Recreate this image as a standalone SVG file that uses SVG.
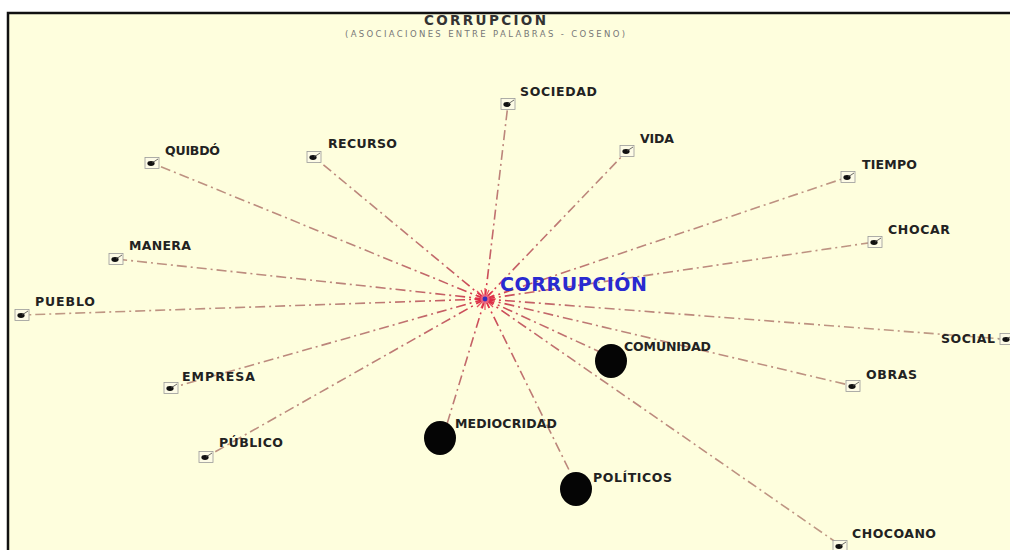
<svg xmlns="http://www.w3.org/2000/svg" width="1010" height="550" viewBox="0 0 1010 550">
  <defs>
    <radialGradient id="rayGrad" gradientUnits="userSpaceOnUse" cx="485" cy="299" r="520">
      <stop offset="0" stop-color="#e0203c"/>
      <stop offset="0.06" stop-color="#c65a62"/>
      <stop offset="0.25" stop-color="#bb847a"/>
      <stop offset="1" stop-color="#c0a088"/>
    </radialGradient>
    <g id="marker">
      <rect x="-7" y="-5.5" width="14" height="11" fill="#fdfbe6" stroke="#9a9a9a" stroke-width="0.8"/>
      <ellipse cx="-1" cy="0.5" rx="3.6" ry="2.4" fill="#111"/>
      <line x1="0" y1="0" x2="6" y2="-4" stroke="#444" stroke-width="0.8"/>
    </g>
  </defs>
  <style>
    .ray { fill: none; stroke: url(#rayGrad); stroke-width: 1.6; stroke-dasharray: 10 4 2 4; }
    .lbl { font-family: "DejaVu Sans", Verdana, sans-serif; font-weight: bold; font-size: 12.5px; fill: #222; }
    .hub { font-family: "DejaVu Sans", Verdana, sans-serif; font-weight: bold; font-size: 19px; fill: #2a2ad0; }
    .big { fill: #050505; }
  </style>

  <!-- page and frame -->
  <rect x="0" y="0" width="1010" height="550" fill="#ffffff"/>
  <rect x="8" y="13" width="1010" height="550" fill="#fefedd" stroke="#111" stroke-width="2.5"/>

  <!-- heading -->
  <text x="485" y="25" text-anchor="middle" font-family="'DejaVu Sans', Verdana, sans-serif" font-weight="bold" font-size="13.5" fill="#333" textLength="122" lengthAdjust="spacing">CORRUPCION</text>
  <text x="485" y="37" text-anchor="middle" font-family="'DejaVu Sans', Verdana, sans-serif" font-size="8.5" fill="#777" textLength="280" lengthAdjust="spacing">(ASOCIACIONES ENTRE PALABRAS - COSENO)</text>

  <!-- connectors from the hub -->
  <g id="connectors">
    <line class="ray" x1="485" y1="299" x2="508" y2="104"/>
    <line class="ray" x1="485" y1="299" x2="627" y2="151"/>
    <line class="ray" x1="485" y1="299" x2="848" y2="177"/>
    <line class="ray" x1="485" y1="299" x2="875" y2="242"/>
    <line class="ray" x1="485" y1="299" x2="1003" y2="339"/>
    <line class="ray" x1="485" y1="299" x2="853" y2="386"/>
    <line class="ray" x1="485" y1="299" x2="600" y2="352"/>
    <line class="ray" x1="485" y1="299" x2="840" y2="545"/>
    <line class="ray" x1="485" y1="299" x2="572" y2="476"/>
    <line class="ray" x1="485" y1="299" x2="447" y2="424"/>
    <line class="ray" x1="485" y1="299" x2="206" y2="457"/>
    <line class="ray" x1="485" y1="299" x2="171" y2="388"/>
    <line class="ray" x1="485" y1="299" x2="22" y2="315"/>
    <line class="ray" x1="485" y1="299" x2="116" y2="259"/>
    <line class="ray" x1="485" y1="299" x2="152" y2="163"/>
    <line class="ray" x1="485" y1="299" x2="314" y2="157"/>
    <line x1="998" y1="339" x2="1002" y2="339" stroke="#888" stroke-width="0.8"/>
  </g>

  <!-- hub -->
  <g id="n-corrupcion">
    <g stroke="#e4304a" stroke-width="1.2" opacity="0.85">
      <line x1="474" y1="299" x2="496" y2="299"/>
      <line x1="485" y1="288" x2="485" y2="310"/>
      <line x1="477" y1="291" x2="493" y2="307"/>
      <line x1="477" y1="307" x2="493" y2="291"/>
      <line x1="476" y1="295" x2="494" y2="303"/>
      <line x1="476" y1="303" x2="494" y2="295"/>
      <line x1="481" y1="290" x2="489" y2="308"/>
      <line x1="489" y1="290" x2="481" y2="308"/>
    </g>
    <circle cx="485" cy="299" r="4.5" fill="#e86a8a" opacity="0.8"/>
    <circle cx="485" cy="299" r="2.4" fill="#3030c0"/>
    <text class="hub" x="500" y="291" textLength="147" lengthAdjust="spacing">CORRUPCIÓN</text>
  </g>

  <!-- word nodes -->
  <g id="n-sociedad"><use href="#marker" x="508" y="104"/><text class="lbl" x="520" y="96" textLength="77" lengthAdjust="spacing">SOCIEDAD</text></g>
  <g id="n-vida"><use href="#marker" x="627" y="151"/><text class="lbl" x="640" y="143" textLength="34" lengthAdjust="spacing">VIDA</text></g>
  <g id="n-tiempo"><use href="#marker" x="848" y="177"/><text class="lbl" x="862" y="169" textLength="55" lengthAdjust="spacing">TIEMPO</text></g>
  <g id="n-chocar"><use href="#marker" x="875" y="242"/><text class="lbl" x="888" y="234" textLength="62" lengthAdjust="spacing">CHOCAR</text></g>
  <g id="n-social"><use href="#marker" x="1007" y="339"/><text class="lbl" x="941" y="343" textLength="54" lengthAdjust="spacing">SOCIAL</text></g>
  <g id="n-obras"><use href="#marker" x="853" y="386"/><text class="lbl" x="866" y="379" textLength="51" lengthAdjust="spacing">OBRAS</text></g>
  <g id="n-comunidad"><ellipse class="big" cx="611" cy="361" rx="16" ry="17"/><text class="lbl" x="624" y="351" textLength="87" lengthAdjust="spacing">COMUNIDAD</text></g>
  <g id="n-chocoano"><use href="#marker" x="840" y="546"/><text class="lbl" x="852" y="538" textLength="84" lengthAdjust="spacing">CHOCOANO</text></g>
  <g id="n-politicos"><ellipse class="big" cx="576" cy="489" rx="16" ry="17"/><text class="lbl" x="593" y="482" textLength="79" lengthAdjust="spacing">POLÍTICOS</text></g>
  <g id="n-mediocridad"><ellipse class="big" cx="440" cy="438" rx="16" ry="17"/><text class="lbl" x="455" y="428" textLength="102" lengthAdjust="spacing">MEDIOCRIDAD</text></g>
  <g id="n-publico"><use href="#marker" x="206" y="457"/><text class="lbl" x="219" y="447" textLength="64" lengthAdjust="spacing">PÚBLICO</text></g>
  <g id="n-empresa"><use href="#marker" x="171" y="388"/><text class="lbl" x="182" y="381" textLength="73" lengthAdjust="spacing">EMPRESA</text></g>
  <g id="n-pueblo"><use href="#marker" x="22" y="315"/><text class="lbl" x="35" y="306" textLength="60" lengthAdjust="spacing">PUEBLO</text></g>
  <g id="n-manera"><use href="#marker" x="116" y="259"/><text class="lbl" x="129" y="250" textLength="62" lengthAdjust="spacing">MANERA</text></g>
  <g id="n-quibdo"><use href="#marker" x="152" y="163"/><text class="lbl" x="165" y="155" textLength="55" lengthAdjust="spacing">QUIBDÓ</text></g>
  <g id="n-recurso"><use href="#marker" x="314" y="157"/><text class="lbl" x="328" y="148" textLength="69" lengthAdjust="spacing">RECURSO</text></g>
</svg>
